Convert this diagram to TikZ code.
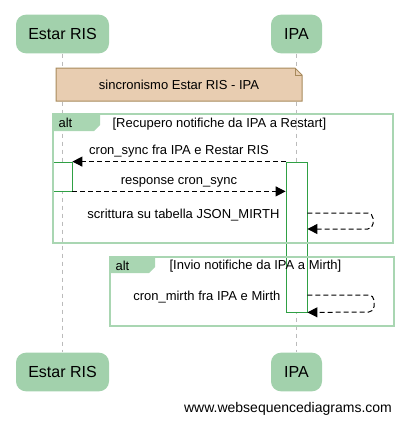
\documentclass[tikz,border=0pt]{standalone}
\usepackage{fontspec}
\setmainfont{Liberation Sans}
\usetikzlibrary{arrows.meta,positioning,calc}
\definecolor{ActorGreen}{HTML}{A2D1AC}
\definecolor{FrameGreen}{HTML}{A9D6B2}
\definecolor{ActGreen}{HTML}{2FA044}
\definecolor{NoteTan}{HTML}{E8CDB1}
\definecolor{NoteEdge}{HTML}{A88A5C}
\definecolor{LifeGray}{HTML}{BBBBBB}

\tikzset{
  actor/.style={rectangle,rounded corners=7.5pt,fill=ActorGreen,minimum height=29pt,
    inner sep=0pt,font=\fontsize{12}{14}\selectfont},
  lifeline/.style={LifeGray,line width=0.6pt,dash pattern=on 3pt off 3pt},
  activ/.style={rectangle,draw=ActGreen,fill=white,line width=0.6pt,inner sep=0pt},
  altframe/.style={draw=FrameGreen,line width=1.5pt},
  alttab/.style={fill=FrameGreen},
  msg/.style={-{Triangle[length=7.5pt,width=7.5pt]},line width=0.75pt,dash pattern=on 3.75pt off 2.25pt},
  lbl/.style={font=\fontsize{9.75}{12}\selectfont,inner sep=1pt}
}

\begin{document}
\begin{tikzpicture}[x=0.75pt,y=-0.75pt]
\useasboundingbox (0,0) rectangle (404,425);
% partecipanti
\node[actor,minimum width=69.75pt] (estarT) at (62.5,34) {Estar RIS};
\node[actor,minimum width=38.25pt] (ipaT) at (296.5,34) {IPA};
\node[actor,minimum width=69.75pt] (estarB) at (62.5,372) {Estar RIS};
\node[actor,minimum width=38.25pt] (ipaB) at (296.5,372) {IPA};
\draw[lifeline] (estarT) -- (estarB);
\draw[lifeline] (ipaT) -- (ipaB);
% nota
\draw[fill=NoteTan,draw=NoteEdge,line width=0.75pt] (56,68) -- (295,68) -- (302,75) -- (302,101) -- (56,101) -- cycle;
\draw[NoteEdge,line width=0.6pt] (295,68) -- (295,75) -- (302,75);
\node[lbl] (sync) at (179,84.5) {sincronismo Estar RIS - IPA};
% attivazioni
\node[activ,minimum width=14.25pt,minimum height=21.75pt] (actE) at (62.5,176.5) {};
\node[activ,minimum width=15.75pt,minimum height=112.5pt] (actI) at (296.5,237) {};
% alt 1
\draw[altframe] (53,114) rectangle (393,243);
\fill[alttab] (53,114) -- (100,114) -- (100,125) -- (94,131) -- (53,131) -- cycle;
\node[lbl,anchor=west] (alt1) at (57,123) {alt};
\node[lbl,anchor=west] (g1) at (111,124) {[Recupero notifiche da IPA a Restart]};
\draw[msg] (actI.north west) -- node[lbl,above=2pt] {cron\_sync fra IPA e Restar RIS} (actE.north east);
\draw[msg] (actE.south east) -- node[lbl,above=2pt] {response cron\_sync} (actE.south east -| actI.west);
\node[lbl,anchor=east] (m3) at (281,215) {scrittura su tabella JSON\_MIRTH};
\draw[msg,rounded corners=4pt] (actI.east |- 0,213) -- (373,213) -- (373,229) -- (actI.east |- 0,229);
% alt 2
\draw[altframe] (110,257) rectangle (394,326);
\fill[alttab] (110,257) -- (155,257) -- (155,267) -- (149,273) -- (110,273) -- cycle;
\node[lbl,anchor=west] (alt2) at (114,265.5) {alt};
\node[lbl,anchor=west] (g2) at (168,266) {[Invio notifiche da IPA a Mirth]};
\node[lbl,anchor=east] (m4) at (282,297) {cron\_mirth fra IPA e Mirth};
\draw[msg,rounded corners=4pt] (actI.east |- 0,295) -- (374,295) -- (374,312) -- (actI.south east);
% firma
\node[font=\fontsize{10.5}{12}\selectfont,inner sep=0pt] (wsd) at (288,409) {www.websequencediagrams.com};
\end{tikzpicture}
\end{document}
